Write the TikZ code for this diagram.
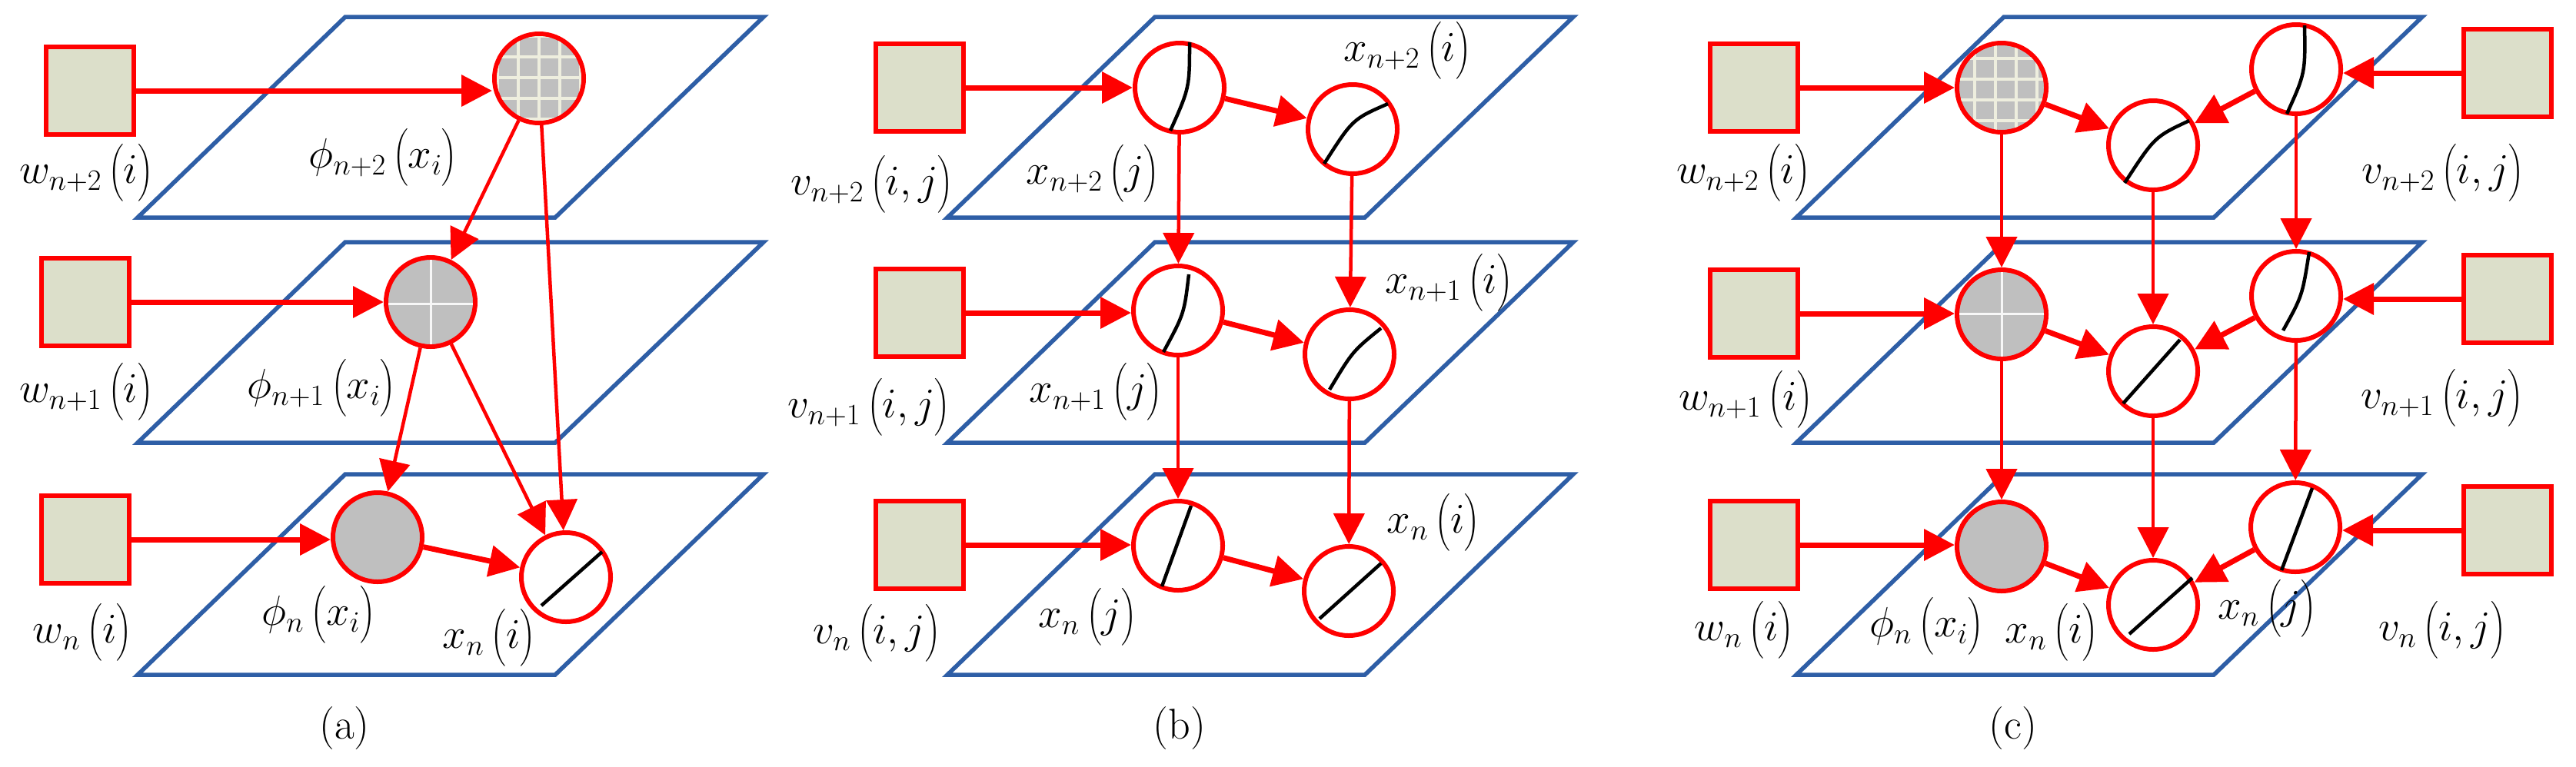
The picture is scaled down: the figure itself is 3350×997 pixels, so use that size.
\RequirePackage{fix-cm}
\documentclass[tikz,border=0pt]{standalone}
\usepackage{amsmath}
\usetikzlibrary{arrows.meta,calc}
\definecolor{planeblue}{RGB}{46,94,166}
\definecolor{sqfill}{RGB}{220,223,202}
\definecolor{nodegray}{RGB}{191,191,191}
\definecolor{gridc}{RGB}{238,238,222}
\begin{document}
\begin{tikzpicture}[x=1pt,y=-1pt,
  sq/.style={draw=red, fill=sqfill, line width=6pt, minimum size=114pt, inner sep=0pt},
  enode/.style={circle, draw=red, fill=white, line width=6pt, minimum size=116pt, inner sep=0pt},
  gnode/.style={enode, fill=nodegray},
  lab/.style={font=\fontsize{55}{60}\selectfont, inner sep=0pt},
  captxt/.style={font=\fontsize{56}{60}\selectfont, inner sep=0pt},
  arr/.style={draw=red, line width=4.5pt, -{Triangle[length=40pt,width=40pt]}},
  arrT/.style={arr, line width=7pt},
  slash/.style={draw=black, line width=4.5pt},
  gridl/.style={draw=gridc, line width=3.5pt},
  crossl/.style={draw=white!94!gray, line width=3pt},
  plane/.style={draw=planeblue, line width=5.5pt}]
\fill[white] (0,0) rectangle (3350,997);
\useasboundingbox (0,0) rectangle (3350,997);
% planes
\foreach \xo in {179,1232,2336}{
  \foreach \yt in {22,315,617}{
    \draw[plane] (\xo,\yt+261) -- (\xo+543,\yt+261) -- (\xo+814,\yt) -- (\xo+270,\yt) -- cycle;
  }
}
% ---------- panel (a) ----------
\node[sq] (sqa1) at (117,118) {};
\node[sq] (sqa2) at (111,393) {};
\node[sq] (sqa3) at (111,702) {};
\node[gnode] (pa2) at (701,102) {};
\node[gnode] (pa1) at (560,393) {};
\node[gnode] (pan) at (491,699) {};
\node[enode] (xan) at (736,751) {};
\begin{scope}
  \clip (pa2) circle[radius=55pt];
  \foreach \k in {-54,-27,0,27,54}{
    \draw[gridl] ($(pa2)+(\k,-60)$) -- ($(pa2)+(\k,60)$);
    \draw[gridl] ($(pa2)+(-60,\k-1)$) -- ($(pa2)+(60,\k-1)$);
  }
\end{scope}
\begin{scope}
  \clip (pa1) circle[radius=55pt];
  \draw[crossl] ($(pa1)+(0,-60)$) -- ($(pa1)+(0,60)$);
  \draw[crossl] ($(pa1)+(-60,2)$) -- ($(pa1)+(60,2)$);
\end{scope}
\draw[slash] ($(xan)+(-32,37)$) -- ($(xan)+(47,-33)$);
\draw[arrT] (sqa1.east) -- (sqa1.east -| pa2.west);
\draw[arrT] (sqa2.east) -- (sqa2.east -| pa1.west);
\draw[arrT] (sqa3.east) -- (sqa3.east -| pan.west);
\draw[arr] (pa2) -- (pa1);
\draw[arr] (pa2) -- (xan);
\draw[arr] (pa1) -- (pan);
\draw[arr] (pa1) -- (xan);
\draw[arrT] (pan) -- (xan);
\node[lab] (la1) at (112,225) {$w_{n+2}\,\bigl(i\bigr)$};
\node[lab] (la2) at (112,510) {$w_{n+1}\,\bigl(i\bigr)$};
\node[lab] (la3) at (107,823) {$w_{n}\,\bigl(i\bigr)$};
\node[lab] (la4) at (498,205) {$\phi_{n+2}\,\bigl(x_i\bigr)$};
\node[lab] (la5) at (418,505) {$\phi_{n+1}\,\bigl(x_i\bigr)$};
\node[lab] (la6) at (414,800) {$\phi_{n}\,\bigl(x_i\bigr)$};
\node[lab] (la7) at (636,830) {$x_{n}\,\bigl(i\bigr)$};
\node[captxt] (capa) at (448,948) {(a)};
% ---------- panel (b) ----------
\node[sq] (sqb1) at (1196,114) {};
\node[sq] (sqb2) at (1196,407) {};
\node[sq] (sqb3) at (1196,709) {};
\node[enode] (b1) at (1534,114) {};
\node[enode] (b2) at (1759,168) {};
\node[enode] (b3) at (1532,404) {};
\node[enode] (b4) at (1755,461) {};
\node[enode] (b5) at (1532,710) {};
\node[enode] (b6) at (1754,769) {};
\draw[slash] ($(b1)+(-12,56)$) .. controls ($(b1)+(13,0)$) .. ($(b1)+(13,-59)$);
\draw[slash] ($(b2)+(-37,45)$) .. controls ($(b2)+(0,-13)$) .. ($(b2)+(46,-33)$);
\draw[slash] ($(b3)+(-19,54)$) .. controls ($(b3)+(8,4)$) .. ($(b3)+(14,-47)$);
\draw[slash] ($(b4)+(-26,46)$) .. controls ($(b4)+(4,-4)$) .. ($(b4)+(41,-34)$);
\draw[slash] ($(b5)+(-21,53)$) -- ($(b5)+(17,-52)$);
\draw[slash] ($(b6)+(-38,36)$) -- ($(b6)+(42,-36)$);
\draw[arrT] (sqb1.east) -- (sqb1.east -| b1.west);
\draw[arrT] (sqb2.east) -- (sqb2.east -| b3.west);
\draw[arrT] (sqb3.east) -- (sqb3.east -| b5.west);
\draw[arrT] (b1) -- (b2);
\draw[arrT] (b3) -- (b4);
\draw[arrT] (b5) -- (b6);
\draw[arr] (b1) -- (b3);
\draw[arr] (b3) -- (b5);
\draw[arr] (b2) -- (b4);
\draw[arr] (b4) -- (b6);
\node[lab] (lb1) at (1134,240) {$v_{n+2}\,\bigl(i,j\bigr)$};
\node[lab] (lb2) at (1130,530) {$v_{n+1}\,\bigl(i,j\bigr)$};
\node[lab] (lb3) at (1140,824) {$v_{n}\,\bigl(i,j\bigr)$};
\node[lab] (lb4) at (1421,226) {$x_{n+2}\,\bigl(j\bigr)$};
\node[lab] (lb5) at (1830,66) {$x_{n+2}\,\bigl(i\bigr)$};
\node[lab] (lb6) at (1425,510) {$x_{n+1}\,\bigl(j\bigr)$};
\node[lab] (lb7) at (1884,368) {$x_{n+1}\,\bigl(i\bigr)$};
\node[lab] (lb8) at (1414,803) {$x_{n}\,\bigl(j\bigr)$};
\node[lab] (lb9) at (1864,680) {$x_{n}\,\bigl(i\bigr)$};
\node[captxt] (capb) at (1534,948) {(b)};
% ---------- panel (c) ----------
\node[sq] (sqc1) at (2281,114) {};
\node[sq] (sqc2) at (2281,408) {};
\node[sq] (sqc3) at (2281,709) {};
\node[sq] (sqr1) at (3261,95) {};
\node[sq] (sqr2) at (3261,389) {};
\node[sq] (sqr3) at (3261,690) {};
\node[gnode] (cp2) at (2603,114) {};
\node[gnode] (cp1) at (2603,409) {};
\node[gnode] (cpn) at (2603,711) {};
\node[enode] (ci2) at (2800,189) {};
\node[enode] (ci1) at (2800,483) {};
\node[enode] (cin) at (2800,787) {};
\node[enode] (cj2) at (2986,90) {};
\node[enode] (cj1) at (2986,385) {};
\node[enode] (cjn) at (2985,686) {};
\begin{scope}
  \clip (cp2) circle[radius=55pt];
  \foreach \k in {-54,-27,0,27,54}{
    \draw[gridl] ($(cp2)+(\k-8,-60)$) -- ($(cp2)+(\k-8,60)$);
    \draw[gridl] ($(cp2)+(-60,\k-11)$) -- ($(cp2)+(60,\k-11)$);
  }
\end{scope}
\begin{scope}
  \clip (cp1) circle[radius=55pt];
  \draw[crossl] ($(cp1)+(0,-60)$) -- ($(cp1)+(0,60)$);
  \draw[crossl] ($(cp1)+(-60,-1)$) -- ($(cp1)+(60,-1)$);
\end{scope}
\draw[slash] ($(ci2)+(-37,49)$) .. controls ($(ci2)+(2,-11)$) .. ($(ci2)+(47,-32)$);
\draw[slash] ($(cj2)+(-12,58)$) .. controls ($(cj2)+(12,5)$) .. ($(cj2)+(11,-57)$);
\draw[slash] ($(cj1)+(-17,45)$) .. controls ($(cj1)+(8,0)$) .. ($(cj1)+(17,-57)$);
\draw[slash] ($(ci1)+(-39,42)$) -- ($(ci1)+(35,-41)$);
\draw[slash] ($(cjn)+(-18,56)$) -- ($(cjn)+(22,-51)$);
\draw[slash] ($(cin)+(-31,38)$) -- ($(cin)+(51,-35)$);
\draw[arrT] (sqc1.east) -- (sqc1.east -| cp2.west);
\draw[arrT] (sqc2.east) -- (sqc2.east -| cp1.west);
\draw[arrT] (sqc3.east) -- (sqc3.east -| cpn.west);
\draw[arrT] (sqr1.west) -- (sqr1.west -| cj2.east);
\draw[arrT] (sqr2.west) -- (sqr2.west -| cj1.east);
\draw[arrT] (sqr3.west) -- (sqr3.west -| cjn.east);
\draw[arrT] (cp2) -- (ci2);
\draw[arrT] (cj2) -- (ci2);
\draw[arrT] (cp1) -- (ci1);
\draw[arrT] (cj1) -- (ci1);
\draw[arrT] (cpn) -- (cin);
\draw[arrT] (cjn) -- (cin);
\draw[arr] (cp2) -- (cp1);
\draw[arr] (cp1) -- (cpn);
\draw[arr] (ci2) -- (ci1);
\draw[arr] (ci1) -- (cin);
\draw[arr] (cj2) -- (cj1);
\draw[arr] (cj1) -- (cjn);
\node[lab] (lc1) at (2267,225) {$w_{n+2}\,\bigl(i\bigr)$};
\node[lab] (lc2) at (2270,520) {$w_{n+1}\,\bigl(i\bigr)$};
\node[lab] (lc3) at (2268,820) {$w_{n}\,\bigl(i\bigr)$};
\node[lab] (lc4) at (2505,815) {$\phi_{n}\,\bigl(x_i\bigr)$};
\node[lab] (lc5) at (2668,823) {$x_{n}\,\bigl(i\bigr)$};
\node[lab] (lc6) at (2948,792) {$x_{n}\,\bigl(j\bigr)$};
\node[lab] (lc7) at (3177,225) {$v_{n+2}\,\bigl(i,j\bigr)$};
\node[lab] (lc8) at (3176,518) {$v_{n+1}\,\bigl(i,j\bigr)$};
\node[lab] (lc9) at (3176,820) {$v_{n}\,\bigl(i,j\bigr)$};
\node[captxt] (capc) at (2618,948) {(c)};
\end{tikzpicture}
\end{document}
